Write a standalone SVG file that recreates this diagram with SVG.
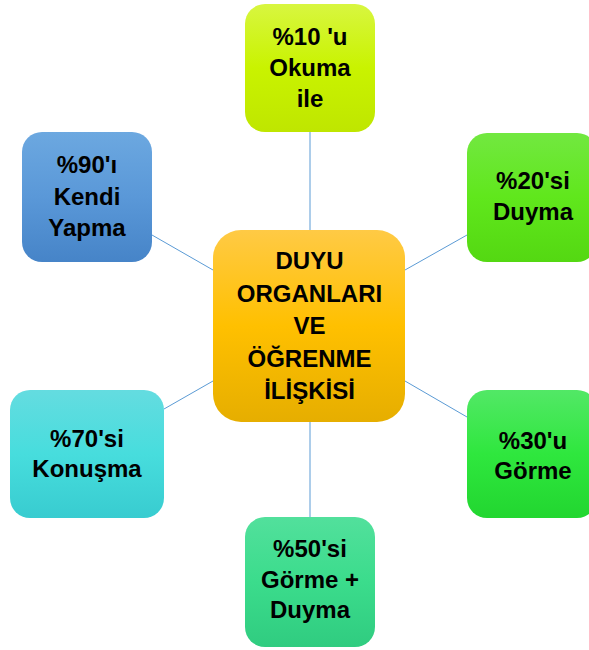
<svg xmlns="http://www.w3.org/2000/svg" width="589" height="650" viewBox="0 0 589 650">
<defs>
<linearGradient id="gCenter" x1="0" y1="0" x2="0" y2="1"><stop offset="0" stop-color="#ffca45"/><stop offset="0.5" stop-color="#ffc000"/><stop offset="1" stop-color="#e6ae00"/></linearGradient>
<linearGradient id="gTop" x1="0" y1="0" x2="0" y2="1"><stop offset="0" stop-color="#d8f640"/><stop offset="0.5" stop-color="#c9f300"/><stop offset="1" stop-color="#bfe600"/></linearGradient>
<linearGradient id="gDuyma" x1="0" y1="0" x2="0" y2="1"><stop offset="0" stop-color="#72e840"/><stop offset="0.5" stop-color="#60e71c"/><stop offset="1" stop-color="#54d812"/></linearGradient>
<linearGradient id="gGorme" x1="0" y1="0" x2="0" y2="1"><stop offset="0" stop-color="#52e866"/><stop offset="0.5" stop-color="#2fe73e"/><stop offset="1" stop-color="#22d630"/></linearGradient>
<linearGradient id="gBottom" x1="0" y1="0" x2="0" y2="1"><stop offset="0" stop-color="#52e09c"/><stop offset="0.5" stop-color="#3bdc8c"/><stop offset="1" stop-color="#30cc80"/></linearGradient>
<linearGradient id="gKonusma" x1="0" y1="0" x2="0" y2="1"><stop offset="0" stop-color="#64dce0"/><stop offset="0.5" stop-color="#47dddd"/><stop offset="1" stop-color="#38ccd0"/></linearGradient>
<linearGradient id="gKendi" x1="0" y1="0" x2="0" y2="1"><stop offset="0" stop-color="#6ca8e0"/><stop offset="0.5" stop-color="#5a98d8"/><stop offset="1" stop-color="#4684c8"/></linearGradient>
</defs>
<style>
.lbl{font-family:"Liberation Sans",Arial,sans-serif;font-weight:bold;font-size:24px;fill:#000;text-anchor:middle}
.edge{stroke:#5b9bd5;stroke-width:1;fill:none}
</style>
<g id="connectors">
<line class="edge" x1="310" y1="132" x2="310" y2="230"/>
<line class="edge" x1="310" y1="422" x2="310" y2="517"/>
<line class="edge" x1="405" y1="270" x2="467" y2="235"/>
<line class="edge" x1="405" y1="381" x2="467" y2="417"/>
<line class="edge" x1="213" y1="270" x2="152" y2="235"/>
<line class="edge" x1="213" y1="381" x2="164" y2="409"/>
</g>
<g id="center">
<rect x="213" y="230" width="192" height="192" rx="28" fill="url(#gCenter)"/>
<text class="lbl" x="309.5" y="269">DUYU</text>
<text class="lbl" x="309.5" y="301.5">ORGANLARI</text>
<text class="lbl" x="309.5" y="334">VE</text>
<text class="lbl" x="309.5" y="366.5">ÖĞRENME</text>
<text class="lbl" x="309.5" y="399">İLİŞKİSİ</text>
</g>
<g id="okuma">
<rect x="245" y="4" width="130" height="128" rx="20" fill="url(#gTop)"/>
<text class="lbl" x="310" y="45">%10 'u</text>
<text class="lbl" x="310" y="76">Okuma</text>
<text class="lbl" x="310" y="107">ile</text>
</g>
<g id="duyma">
<rect x="467" y="133" width="130" height="129" rx="20" fill="url(#gDuyma)"/>
<text class="lbl" x="533" y="189">%20'si</text>
<text class="lbl" x="533" y="220">Duyma</text>
</g>
<g id="gorme">
<rect x="467" y="390" width="130" height="128" rx="20" fill="url(#gGorme)"/>
<text class="lbl" x="533" y="449">%30'u</text>
<text class="lbl" x="533" y="479">Görme</text>
</g>
<g id="gorme-duyma">
<rect x="245" y="517" width="130" height="130" rx="20" fill="url(#gBottom)"/>
<text class="lbl" x="310" y="557">%50'si</text>
<text class="lbl" x="310" y="588">Görme +</text>
<text class="lbl" x="310" y="618">Duyma</text>
</g>
<g id="konusma">
<rect x="10" y="390" width="154" height="128" rx="20" fill="url(#gKonusma)"/>
<text class="lbl" x="87" y="447">%70'si</text>
<text class="lbl" x="87" y="477">Konuşma</text>
</g>
<g id="kendi">
<rect x="22" y="132" width="130" height="130" rx="20" fill="url(#gKendi)"/>
<text class="lbl" x="87" y="173">%90'ı</text>
<text class="lbl" x="87" y="205">Kendi</text>
<text class="lbl" x="87" y="236">Yapma</text>
</g>
</svg>
